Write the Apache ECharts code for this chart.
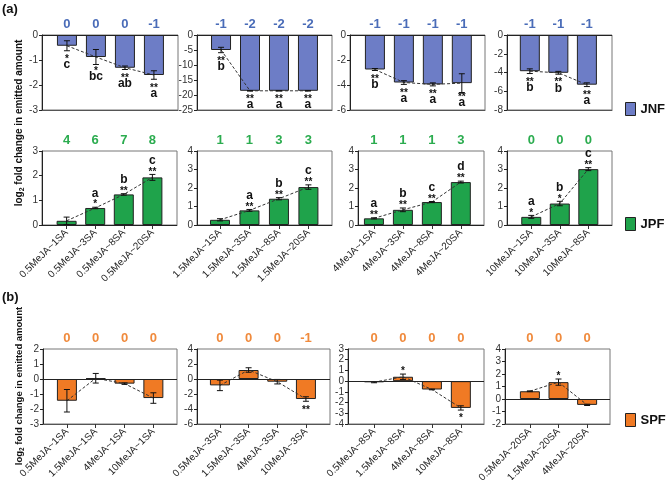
<!DOCTYPE html>
<html><head><meta charset="utf-8">
<script src="https://cdn.jsdelivr.net/npm/echarts@6/dist/echarts.min.js"></script>
<style>html,body{margin:0;padding:0;background:#fff}#c{width:666px;height:480px}</style>
</head><body><div id="c"></div>
<script>
// ---------- categories ----------
const cats05 = ['0.5MeJA~1SA','0.5MeJA~3SA','0.5MeJA~8SA','0.5MeJA~20SA'];
const cats15 = ['1.5MeJA~1SA','1.5MeJA~3SA','1.5MeJA~8SA','1.5MeJA~20SA'];
const cats4  = ['4MeJA~1SA','4MeJA~3SA','4MeJA~8SA','4MeJA~20SA'];
const cats10 = ['10MeJA~1SA','10MeJA~3SA','10MeJA~8SA'];
const catsSA1  = ['0.5MeJA~1SA','1.5MeJA~1SA','4MeJA~1SA','10MeJA~1SA'];
const catsSA3  = ['0.5MeJA~3SA','1.5MeJA~3SA','4MeJA~3SA','10MeJA~3SA'];
const catsSA8  = ['0.5MeJA~8SA','1.5MeJA~8SA','4MeJA~8SA','10MeJA~8SA'];
const catsSA20 = ['0.5MeJA~20SA','1.5MeJA~20SA','4MeJA~20SA'];

// ---------- JNF ----------
const jnfMean1 = [-0.43,-0.88,-1.31,-1.60];
const jnfErr1  = [0.20,0.30,0.07,0.17];
const jnfStar1 = ['*','*','**','**'];
const jnfLet1  = ['c','bc','ab','a'];
const jnfCnt1  = [0,0,0,-1];

const jnfMean2 = [-5.0,-18.6,-18.6,-18.6];
const jnfErr2  = [0.9,0.1,0.1,0.1];
const jnfStar2 = ['**','**','**','**'];
const jnfLet2  = ['b','a','a','a'];
const jnfCnt2  = [-1,-2,-2,-2];

const jnfMean3 = [-2.76,-3.8,-3.95,-3.85];
const jnfErr3  = [0.08,0.15,0.12,0.75];
const jnfStar3 = ['**','**','**','**'];
const jnfLet3  = ['b','a','a','a'];
const jnfCnt3  = [-1,-1,-1,-1];

const jnfMean4 = [-3.86,-4.03,-5.3];
const jnfErr4  = [0.25,0.15,0.2];
const jnfStar4 = ['**','**','**'];
const jnfLet4  = ['b','b','a'];
const jnfCnt4  = [-1,-1,-1];

// ---------- JPF ----------
const jpfMean1 = [0.17,0.69,1.24,1.93];
const jpfErr1  = [0.15,0.03,0.03,0.12];
const jpfStar1 = ['','*','**','**'];
const jpfLet1  = ['','a','b','c'];
const jpfCnt1  = [4,6,7,8];

const jpfMean2 = [0.28,0.79,1.42,2.05];
const jpfErr2  = [0.06,0.05,0.06,0.12];
const jpfStar2 = ['','**','**','**'];
const jpfLet2  = ['','a','b','c'];
const jpfCnt2  = [1,1,3,3];

const jpfMean3 = [0.36,0.82,1.24,2.32];
const jpfErr3  = [0.03,0.1,0.03,0.05];
const jpfStar3 = ['**','**','**','**'];
const jpfLet3  = ['a','b','c','d'];
const jpfCnt3  = [1,1,1,3];

const jpfMean4 = [0.44,1.16,3.02];
const jpfErr4  = [0.08,0.12,0.08];
const jpfStar4 = ['*','*','**'];
const jpfLet4  = ['a','b','c'];
const jpfCnt4  = [0,0,0];

// ---------- SPF ----------
const spfMean1 = [-1.45,0.05,-0.31,-1.27];
const spfErr1  = [0.75,0.32,0.05,0.35];
const spfStar1 = ['','','',''];
const spfCnt1  = [0,0,0,0];

const spfMean2 = [-0.85,1.2,-0.36,-2.67];
const spfErr2  = [0.7,0.3,0.3,0.3];
const spfStar2 = ['','','','**'];
const spfCnt2  = [0,0,0,-1];

const spfMean3 = [-0.1,0.41,-0.78,-2.5];
const spfErr3  = [0.05,0.25,0.03,0.2];
const spfStar3 = ['','*','','*'];
const spfCnt3  = [0,0,0,0];

const spfMean4 = [0.62,1.35,-0.47];
const spfErr4  = [0.03,0.25,0.05];
const spfStar4 = ['','*',''];
const spfCnt4  = [0,0,0];

// y ranges [min,max,interval]
const yRanges = [
  [-3,0,1],[-25,0,5],[-6,0,2],[-8,0,2],
  [0,3,1],[0,4,1],[0,4,1],[0,4,1],
  [-3,2,1],[-6,4,2],[-4,3,1],[-2,4,1]
];

// ---------- layout (left, top, width, height, padL, padR) ----------
const boxes = [
  [42,35,136,75,0.86,0.83],[197,35,135,75,0.83,0.83],[350,35,135,75,0.86,0.80],[507,35,105,75,0.80,0.88],
  [42,151,135,74,0.86,0.86],[197,151,135,74,0.78,0.80],[358,151,126,74,0.55,0.80],[507,151,105,74,0.85,0.83],
  [43,349,134,75,0.83,0.82],[197,349,133,75,0.80,0.84],[348,349,136,75,0.90,0.80],[505,349,105,75,0.87,0.80]
];

const rows = [
  {name:'JNF', color:'#6d7dc6', cnt:'#4a6cb8', labels:false},
  {name:'JPF', color:'#1fa34b', cnt:'#2bac4f', labels:true},
  {name:'SPF', color:'#f07a24', cnt:'#f08a3c', labels:true}
];

const panels = [
  {cats:cats05, m:jnfMean1, e:jnfErr1, s:jnfStar1, l:jnfLet1, n:jnfCnt1},
  {cats:cats15, m:jnfMean2, e:jnfErr2, s:jnfStar2, l:jnfLet2, n:jnfCnt2},
  {cats:cats4,  m:jnfMean3, e:jnfErr3, s:jnfStar3, l:jnfLet3, n:jnfCnt3},
  {cats:cats10, m:jnfMean4, e:jnfErr4, s:jnfStar4, l:jnfLet4, n:jnfCnt4},
  {cats:cats05, m:jpfMean1, e:jpfErr1, s:jpfStar1, l:jpfLet1, n:jpfCnt1},
  {cats:cats15, m:jpfMean2, e:jpfErr2, s:jpfStar2, l:jpfLet2, n:jpfCnt2},
  {cats:cats4,  m:jpfMean3, e:jpfErr3, s:jpfStar3, l:jpfLet3, n:jpfCnt3},
  {cats:cats10, m:jpfMean4, e:jpfErr4, s:jpfStar4, l:jpfLet4, n:jpfCnt4},
  {cats:catsSA1,  m:spfMean1, e:spfErr1, s:spfStar1, l:null, n:spfCnt1},
  {cats:catsSA3,  m:spfMean2, e:spfErr2, s:spfStar2, l:null, n:spfCnt2},
  {cats:catsSA8,  m:spfMean3, e:spfErr3, s:spfStar3, l:null, n:spfCnt3},
  {cats:catsSA20, m:spfMean4, e:spfErr4, s:spfStar4, l:null, n:spfCnt4}
];

const FONT = 'Liberation Sans, Arial, sans-serif';
const grid = [], xAxis = [], yAxis = [], series = [];

function txt(x, y, t, size, fill) {
  return {type:'text', style:{x:x, y:y, text:t, fill:fill, fontSize:size, fontWeight:'bold',
    fontFamily:FONT, align:'center', verticalAlign:'middle'}};
}

panels.forEach((p, i) => {
  const r = rows[Math.floor(i/4)];
  const b = boxes[i];
  const yr = yRanges[i];
  const idxs = p.m.map((_, j) => j);
  grid.push({left:b[0], top:b[1], width:b[2], height:b[3], show:true, borderColor:'#777', borderWidth:1,
    containLabel:false, outerBoundsMode:'none'});
  xAxis.push({type:'value', gridIndex:i, min:-b[4], max:p.m.length-1+b[5],
    axisLine:{show:true, onZero:false, lineStyle:{color:'#555', width:1}},
    axisTick:{show:r.labels, customValues:idxs, length:4, lineStyle:{color:'#333'}},
    axisLabel:{show:r.labels, customValues:idxs, rotate:45, margin:6, fontSize:10, color:'#222',
      fontFamily:FONT, formatter:(v) => p.cats[Math.round(v)]},
    splitLine:{show:false}});
  yAxis.push({type:'value', gridIndex:i, min:yr[0], max:yr[1], interval:yr[2],
    axisLine:{show:true, onZero:false, lineStyle:{color:'#222', width:1}},
    axisTick:{show:true, length:3, lineStyle:{color:'#222'}},
    axisLabel:{fontSize:10, color:'#333', margin:4, fontFamily:FONT},
    splitLine:{show:false}});
  series.push({type:'bar', name:r.name, xAxisIndex:i, yAxisIndex:i, barWidth:20, z:2,
    data:p.m.map((v, j) => [j, v]),
    itemStyle:{color:r.color, borderColor:'#222', borderWidth:1},
    markLine:{silent:true, symbol:'none', label:{show:false}, animation:false,
      lineStyle:{color:'#222', width:1, type:'solid'}, data:[{yAxis:0}]}});
  series.push({type:'line', xAxisIndex:i, yAxisIndex:i, z:3, symbol:'none', silent:true,
    data:p.m.map((v, j) => [j, v]),
    lineStyle:{color:'#333', width:1, type:[3,2]}});
  series.push({type:'custom', xAxisIndex:i, yAxisIndex:i, z:4, silent:true, clip:false,
    data:p.m.map((v, j) => [j, v, p.e[j], p.n[j]]),
    encode:{x:0, y:1},
    renderItem:function(params, api){
      const j = api.value(0), m = api.value(1), e = api.value(2), n = api.value(3);
      const k = params.dataIndex;
      const c = api.coord([j, m]);
      const hi = api.coord([j, m + e])[1], lo = api.coord([j, m - e])[1];
      const cap = 3, st = {stroke:'#111', lineWidth:1};
      const ch = [
        {type:'line', shape:{x1:c[0], y1:hi, x2:c[0], y2:lo}, style:st},
        {type:'line', shape:{x1:c[0]-cap, y1:hi, x2:c[0]+cap, y2:hi}, style:st},
        {type:'line', shape:{x1:c[0]-cap, y1:lo, x2:c[0]+cap, y2:lo}, style:st}
      ];
      const cs = params.coordSys;
      ch.push(txt(c[0], cs.y - 11, String(n), 13, r.cnt));
      const star = p.s ? p.s[k] : '';
      const let_ = p.l ? p.l[k] : '';
      if (m < 0) {
        const a = Math.min(lo, c[1] + 6);
        if (star) ch.push(txt(c[0], a + 6 + 2.5, star, 10, '#111'));
        if (let_) ch.push(txt(c[0], a + 14, let_, 12, '#111'));
      } else {
        const a = Math.max(hi, c[1] - 6);
        if (star) ch.push(txt(c[0], a - 5 + 2.5, star, 10, '#111'));
        if (let_) ch.push(txt(c[0], a - 14, let_, 12, '#111'));
      }
      return {type:'group', children:ch};
    }});
});

const legendTops = [102, 217, 413];
const legend = rows.map((r, i) => ({
  data:[r.name], left:625, top:legendTops[i], padding:0, icon:'rect', itemWidth:10, itemHeight:13, itemGap:5,
  itemStyle:{borderColor:'#222', borderWidth:1},
  textStyle:{fontSize:13, fontWeight:'bold', color:'#111', fontFamily:FONT, width:30, overflow:'none'},
  selectedMode:false
}));

const graphic = [
  {type:'text', left:2, top:3, style:{text:'(a)', fontSize:13, fontWeight:'bold', fill:'#111', fontFamily:FONT}},
  {type:'text', left:2, top:291, style:{text:'(b)', fontSize:13, fontWeight:'bold', fill:'#111', fontFamily:FONT}},
  {type:'text', x:19, y:123, rotation:Math.PI/2,
    style:{text:'log{s|2} fold change in emitted amount', fontSize:10, fontWeight:'bold', fill:'#111', fontFamily:FONT,
      align:'center', verticalAlign:'middle',
      rich:{s:{fontSize:7, fontWeight:'bold', fontFamily:FONT, verticalAlign:'bottom', lineHeight:14}}}},
  {type:'text', x:19, y:386, rotation:Math.PI/2,
    style:{text:'log{s|2} fold change in emitted amount', fontSize:9.5, fontWeight:'bold', fill:'#111', fontFamily:FONT,
      align:'center', verticalAlign:'middle',
      rich:{s:{fontSize:6.5, fontWeight:'bold', fontFamily:FONT, verticalAlign:'bottom', lineHeight:13}}}}
];

const chart = echarts.init(document.getElementById('c'), null, {renderer:'canvas'});
chart.setOption({
  animation:false,
  backgroundColor:'#fff',
  textStyle:{fontFamily:FONT},
  grid:grid, xAxis:xAxis, yAxis:yAxis, series:series, legend:legend, graphic:graphic
});
</script>
</body></html>
